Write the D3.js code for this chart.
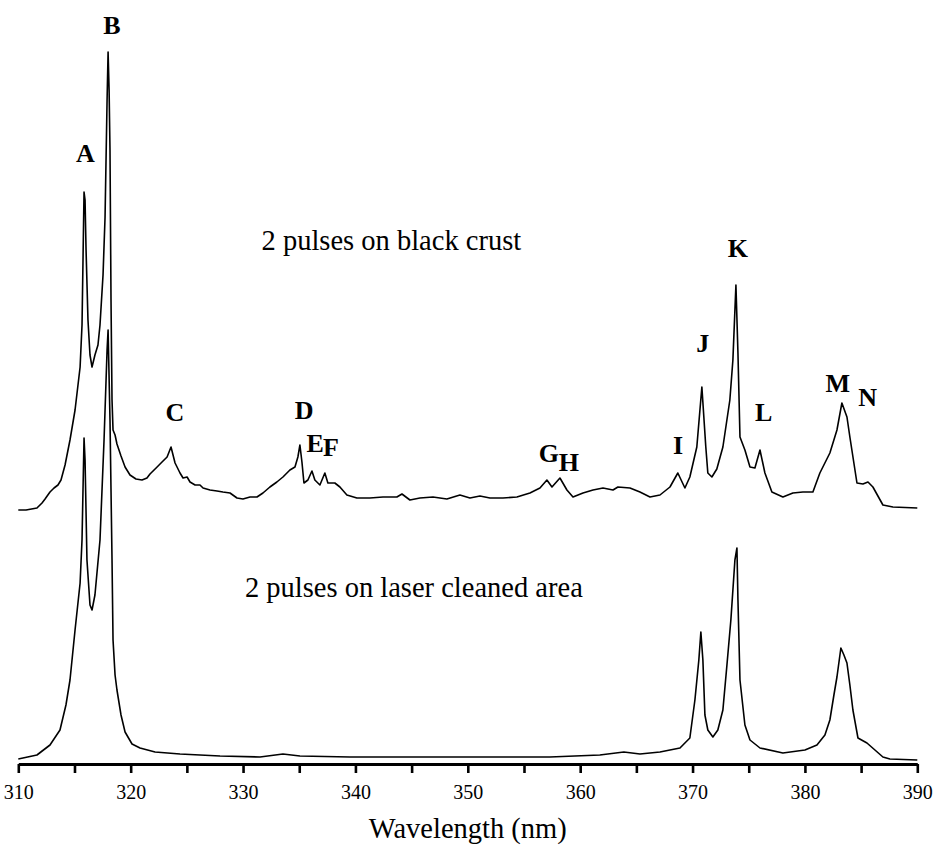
<!DOCTYPE html>
<html>
<head>
<meta charset="utf-8">
<script src="https://cdn.jsdelivr.net/npm/d3@7"></script>
<style>
  html, body { margin: 0; padding: 0; background: #fff; }
  svg { display: block; }
  text { font-family: "Liberation Serif", "Times New Roman", serif; fill: #000; }
</style>
</head>
<body>
<svg id="chart" width="934" height="853"></svg>
<script>
// LIBS emission spectra, wavelength in nm, intensity in arbitrary units
const crustWavelength = [
  310.00, 310.69, 311.66, 312.11, 312.38, 312.82, 313.18, 313.53, 313.80, 314.16,
  314.60, 315.05, 315.50, 315.67, 315.85, 315.94, 316.03, 316.20, 316.38, 316.56,
  316.82, 317.09, 317.27, 317.54, 317.72, 317.90, 317.99, 318.08, 318.16, 318.25,
  318.34, 318.43, 318.61, 318.78, 319.14, 319.50, 319.94, 320.47, 321.01, 321.45,
  321.72, 322.35, 322.79, 323.24, 323.59, 323.95, 324.39, 324.66, 325.02, 325.28,
  325.73, 326.17, 326.44, 327.06, 327.68, 328.21, 328.84, 329.46, 329.99, 330.62,
  331.24, 331.77, 332.39, 333.01, 333.55, 334.17, 334.62, 334.88, 335.06, 335.24,
  335.42, 335.77, 336.13, 336.39, 336.84, 337.28, 337.55, 338.17, 338.62, 339.24,
  340.13, 341.29, 342.45, 343.69, 344.14, 344.85, 345.74, 346.90, 348.14, 349.30,
  350.19, 351.08, 351.97, 353.13, 354.37, 355.53, 356.42, 357.04, 357.49, 358.20,
  358.82, 359.36, 360.25, 361.14, 362.03, 362.92, 363.36, 364.43, 365.32, 366.21,
  367.10, 367.99, 368.69, 369.32, 369.76, 370.38, 370.83, 371.18, 371.36, 371.72,
  372.16, 372.70, 373.32, 373.59, 373.86, 374.04, 374.22, 374.66, 375.11, 375.55,
  376.00, 376.44, 377.06, 378.04, 378.93, 379.82, 380.71, 381.33, 382.22, 382.85,
  383.29, 383.74, 384.00, 384.63, 385.16, 385.61, 386.05, 386.94, 387.83, 390.00
];
const crustIntensity = [
    0,   0,   2,   7,  11,  18,  22,  25,  30,  45,
   70, 100, 143, 185, 318, 310, 260, 190, 155, 143,
  155, 165, 185, 235, 293, 410, 458, 420, 360, 210,
  110,  80,  75,  66,  54,  43,  35,  31,  30,  32,
   36,  43,  48,  53,  63,  47,  37,  32,  33,  28,
   25,  25,  22,  20,  19,  18,  17,  12,  11,  13,
   13,  17,  23,  28,  33,  40,  43,  53,  65,  48,
   27,  30,  39,  30,  25,  37,  27,  27,  23,  15,
   12,  12,  13,  13,  16,  10,  12,  13,  11,  15,
   12,  14,  12,  12,  13,  17,  22,  30,  23,  32,
   20,  13,  17,  20,  22,  20,  23,  22,  18,  13,
   15,  23,  37,  22,  33,  63, 123,  63,  37,  33,
   41,  63, 110, 150, 225, 157,  73,  60,  43,  42,
   60,  37,  18,  13,  17,  18,  18,  37,  57,  80,
  107,  93,  73,  27,  26,  28,  23,   5,   3,   2
];

const cleanedWavelength = [
  310.00, 311.66, 312.82, 313.71, 314.24, 314.60, 315.05, 315.50, 315.67, 315.85,
  315.94, 316.11, 316.38, 316.56, 316.82, 317.27, 317.63, 317.90, 317.99, 318.16,
  318.34, 318.43, 318.61, 318.78, 319.14, 319.50, 320.12, 320.83, 322.17, 324.39,
  327.95, 331.51, 333.55, 335.06, 339.51, 343.96, 348.41, 352.86, 357.30, 361.75,
  363.89, 365.32, 367.10, 368.88, 369.76, 370.21, 370.56, 370.74, 370.92, 371.10,
  371.36, 371.81, 372.25, 372.70, 373.06, 373.41, 373.77, 373.95, 374.04, 374.22,
  374.66, 375.11, 376.00, 378.04, 380.00, 381.07, 381.78, 382.22, 382.58, 382.85,
  383.20, 383.47, 383.74, 384.00, 384.27, 384.72, 385.52, 386.23, 386.94, 387.56,
  390.00
];
const cleanedIntensity = [
    1,   5,  15,  30,  55,  80, 130, 177, 220, 322,
  300, 200, 155, 150, 165, 220, 320, 410, 430, 340,
  200, 120,  85,  70,  45,  28,  16,  12,   8,   6,
    4,   3,   6,   4,   3,   3,   3,   3,   3,   5,
    8,   6,   8,  12,  22,  60, 100, 128, 100,  45,
   30,  23,  30,  50,  95, 140, 200, 212, 160,  80,
   35,  20,  12,   7,  10,  15,  25,  40,  65,  83,
  112, 105,  97,  75,  50,  22,  17,  10,   3,   1,
    0
];

// vertical shift applied to the black-crust trace so both spectra stack
const crustOffset = 250;

// tick values along the wavelength axis
const majorTicks = [310, 320, 330, 340, 350, 360, 370, 380, 390];
const minorTicks = [315, 325, 335, 345, 355, 365, 375, 385];

// emission line identifiers: letter, wavelength (nm), label level (a.u., crust trace)
const lineLabels = [
  ["A", 315.97, 348], ["B", 318.33, 476], ["C", 323.94, 89], ["D", 335.43, 91],
  ["E", 336.41, 58],  ["F", 337.82, 54],  ["G", 357.21, 48], ["H", 358.99, 39],
  ["I", 368.70, 56],  ["J", 370.91, 158], ["K", 374.03, 253], ["L", 376.34, 89],
  ["M", 382.92, 118], ["N", 385.59, 104]
];

// trace captions: text, wavelength of centre (nm), baseline level (a.u.)
const traceTitles = [
  ["2 pulses on black crust", 343.2, 510],
  ["2 pulses on laser cleaned area", 345.2, 163]
];

const svg = d3.select("#chart");

const x = d3.scaleLinear().domain([310, 390]).range([18.3, 917.3]);
const y = d3.scaleLinear().domain([0, 710]).range([760, 50]);
const axisY = 764;

const crust = crustWavelength.map((w, i) => [w, crustIntensity[i] + crustOffset]);
const cleaned = cleanedWavelength.map((w, i) => [w, cleanedIntensity[i]]);

const line = d3.line().x(d => x(d[0])).y(d => y(d[1])).curve(d3.curveLinear);

svg.append("path").datum(cleaned)
  .attr("d", line).attr("fill", "none")
  .attr("stroke", "#000").attr("stroke-width", 1.6).attr("stroke-linejoin", "round");

svg.append("path").datum(crust)
  .attr("d", line).attr("fill", "none")
  .attr("stroke", "#000").attr("stroke-width", 1.6).attr("stroke-linejoin", "round");

// wavelength axis
const xAxis = d3.axisBottom(x)
  .tickValues(majorTicks.concat(minorTicks).sort((a, b) => a - b))
  .tickSize(9).tickSizeOuter(0)
  .tickFormat(d => majorTicks.includes(d) ? d3.format("d")(d) : "");

const gx = svg.append("g").attr("transform", `translate(0,${axisY})`).call(xAxis);
gx.select(".domain").attr("stroke", "#000").attr("stroke-width", 3.2);
gx.selectAll(".tick line").attr("stroke", "#000").attr("stroke-width", 2.6);
gx.selectAll(".tick text")
  .attr("font-size", 20).attr("dy", "0.71em").attr("y", 21)
  .attr("fill", "#000");

svg.append("text")
  .attr("x", x(350)).attr("y", 838)
  .attr("text-anchor", "middle").attr("font-size", 28.5)
  .text("Wavelength (nm)");

// trace captions
svg.selectAll(".title").data(traceTitles).enter().append("text")
  .attr("class", "title")
  .attr("x", d => x(d[1])).attr("y", d => y(d[2]))
  .attr("text-anchor", "middle").attr("font-size", 28.5)
  .text(d => d[0]);

// line identifiers
svg.selectAll(".peak").data(lineLabels).enter().append("text")
  .attr("class", "peak")
  .attr("x", d => x(d[1])).attr("y", d => y(d[2] + crustOffset))
  .attr("text-anchor", "middle").attr("font-size", 26).attr("font-weight", "bold")
  .text(d => d[0]);
</script>
</body>
</html>
